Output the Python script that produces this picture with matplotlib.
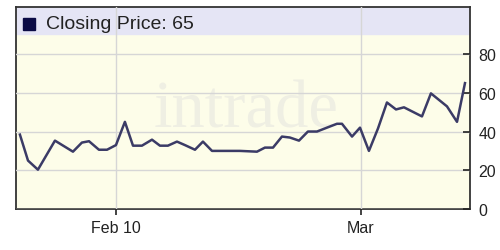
import matplotlib.pyplot as plt

# days counted from Feb 1 (2008, so Mar 1 = day 30)
days = [2.16, 2.82, 3.63, 5.02, 6.49, 7.22, 7.80, 8.61, 9.27, 10.0,
        10.73, 11.39, 12.12, 12.94, 13.59, 14.24, 14.98, 15.63, 16.45, 17.10,
        17.84, 20.12, 21.51, 22.16, 22.82, 23.55, 24.20, 24.94, 25.67, 26.41,
        27.22, 28.04, 28.45, 29.27, 29.92, 30.65, 31.39, 32.12, 32.86, 33.51,
        34.98, 35.71, 37.02, 37.84, 38.49]
prices = [38.4, 25, 20.3, 35.3, 29.6, 34.3, 35, 30.6, 30.6, 33,
          45, 32.7, 32.7, 35.8, 32.7, 32.7, 34.8, 33, 30.6, 34.8,
          30, 30, 29.6, 31.7, 31.7, 37.4, 36.9, 35.3, 40, 40,
          42, 44, 44, 37.4, 42, 30, 41.6, 55, 51.4, 52.5,
          47.8, 59.7, 53, 45, 65]
xtick_pos = [10, 30]
xtick_labels = ['Feb 10', 'Mar']
yticks = [0, 20, 40, 60, 80]

plt.rcParams['font.family'] = ['Liberation Sans', 'DejaVu Sans']

fig = plt.figure(figsize=(5, 2.51), dpi=100)
ax = fig.add_axes([16/500, 41/251, 454/500, 202/251])
ax.set_facecolor('#fdfde9')

ax.axhspan(90.3, 110, color='#e5e5f5', zorder=0)
ax.text(20.6, 51, 'intrade', family='Liberation Serif', fontsize=48,
        color='#efefe3', ha='center', va='center', zorder=1)

ax.plot(days, prices, color='#3b3b66', linewidth=1.8, zorder=3)

ax.set_xlim(1.84, 38.9)
ax.set_ylim(0, 104.3)
ax.set_xticks(xtick_pos)
ax.set_xticklabels(xtick_labels)
ax.set_yticks(yticks)
ax.yaxis.tick_right()
ax.tick_params(axis='y', direction='in', length=5, width=1.2, pad=6,
               labelsize=11.5, colors='#222222')
ax.tick_params(axis='x', direction='out', length=4, width=1.2, pad=4,
               labelsize=11.5, colors='#222222')
ax.set_axisbelow(False)
ax.grid(True, color='#d6d6d6', linewidth=1, zorder=0.8)
for s in ax.spines.values():
    s.set_color('#333333')
    s.set_linewidth(1.3)

# legend box in the header band
ax.plot([0.0286], [0.918], marker='s', markersize=9, color='#0b0b45',
        transform=ax.transAxes, clip_on=False, zorder=4)
ax.text(0.066, 0.916, 'Closing Price: %d' % round(prices[-1]), fontsize=14,
        color='#222222', va='center', ha='left', transform=ax.transAxes)

fig.savefig('out.png', dpi=100)
